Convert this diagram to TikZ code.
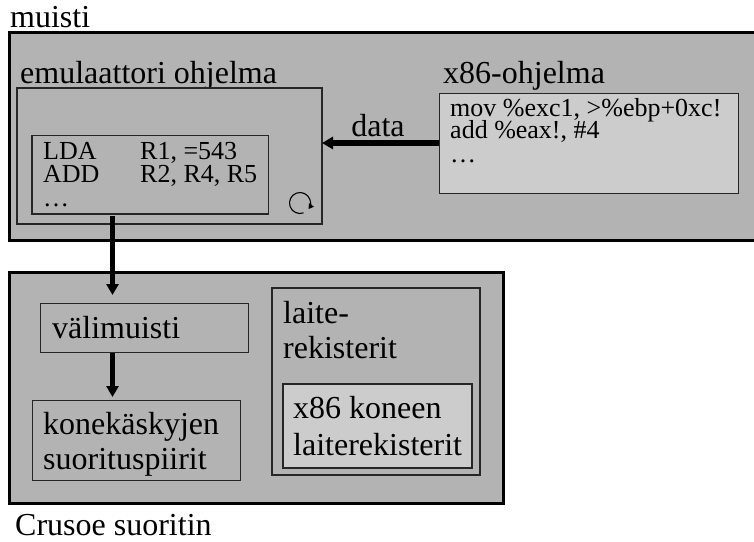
\documentclass[tikz,border=0pt]{standalone}
\usepackage{fontspec}
\setmainfont{Liberation Serif}
\usetikzlibrary{arrows.meta}
\definecolor{gmid}{HTML}{B3B3B3}
\definecolor{glight}{HTML}{CCCCCC}
\tikzset{
  outerbox/.style={draw=black, line width=3pt, fill=gmid},
  innerbox/.style={draw=black!85, line width=1.1pt, fill=gmid},
  lightbox/.style={draw=black!85, line width=1.1pt, fill=glight},
  lbl/.style={anchor=base west, inner sep=0pt, font=\fontsize{32}{32}\selectfont},
  code/.style={anchor=base west, inner sep=0pt, font=\fontsize{26}{26}\selectfont},
  flow/.style={line width=5.5pt, -{Triangle[length=11pt,width=12pt]}},
}
\begin{document}
\begin{tikzpicture}[x=1pt,y=-1pt]
\useasboundingbox (0,0) rectangle (754,541);
\fill[white] (0,0) rectangle (754,541);
% memory
\node[lbl] (muisti) at (10,27) {muisti};
\path[outerbox] (9.8,32.5) rectangle (770,240.2);
\node[lbl] (emulbl) at (20,83) {emulaattori ohjelma};
\draw[innerbox] (17,88) rectangle (322,224);
\coordinate (emuE) at (322,143);
\draw[innerbox] (32,135.5) rectangle (268.5,214);
\coordinate (codeS) at (112.5,214);
\node[code] (lda) at (43,159) {LDA};
\node[code] (r1) at (140,159) {R1, =543};
\node[code] (add) at (43,182) {ADD};
\node[code] (r2) at (140,182) {R2, R4, R5};
\node[code] (dots1) at (43,206) {\dots};
\coordinate (loopc) at (300,203);
\draw[line width=1.1pt, -{Triangle[length=5pt,width=6pt]}] ([shift={(290:10.5pt)}]loopc) arc[start angle=290, end angle=-35, radius=10.5pt];
\node[lbl] (x86lbl) at (443,83) {x86-ohjelma};
\node[lightbox, minimum width=299pt, minimum height=100pt, anchor=north west, inner sep=0pt] (x86) at (439,93) {};
\node[code] (mov) at (450,116) {mov \%exc1, >\%ebp+0xc!};
\node[code] (addx) at (450,138) {add \%eax!, \#4};
\node[code] (dots2) at (450,162) {\dots};
\draw[flow] (x86.west |- emuE) -- (emuE);
\node[lbl, anchor=base] (data) at (378,136) {data};
% Crusoe
\path[outerbox] (9.8,272.2) rectangle (503.5,503.5);
\node[lbl] (crusoe) at (15,535) {Crusoe suoritin};
\node[innerbox, minimum width=208pt, minimum height=49pt, anchor=north west, inner sep=0pt] (vali) at (40,303) {};
\node[lbl] (valit) at (52,338) {välimuisti};
\node[innerbox, minimum width=208pt, minimum height=80pt, anchor=north west, inner sep=0pt] (kone) at (32,400) {};
\node[lbl] (kone1) at (43,434) {konekäskyjen};
\node[lbl] (kone2) at (43,469) {suorituspiirit};
\draw[innerbox] (272,288) rectangle (480,475);
\node[lbl] (laite1) at (283,323) {laite-};
\node[lbl] (laite2) at (283,358) {rekisterit};
\draw[lightbox] (283,384) rectangle (472,468);
\node[lbl] (x861) at (293,418) {x86 koneen};
\node[lbl] (x862) at (293,455) {laiterekisterit};
\draw[flow] ([yshift=-2pt]codeS) -- (codeS |- 0,295);
\draw[flow] (vali.south -| codeS) -- (codeS |- 0,397);
\end{tikzpicture}
\end{document}
